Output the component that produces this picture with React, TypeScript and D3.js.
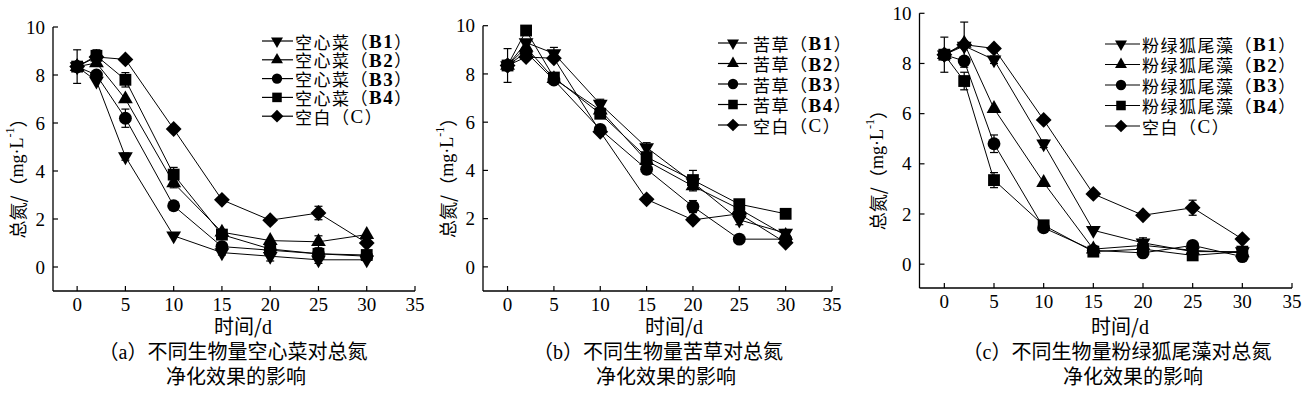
import React from "react";
import * as d3 from "d3";

// sampling days
const days = [0, 2, 5, 10, 15, 20, 25, 30];
const xTicks = [0, 5, 10, 15, 20, 25, 30, 35];
const yTicks = [0, 2, 4, 6, 8, 10];

// (a) 空心菜
const aB1 = [8.35, 7.75, 4.6, 1.3, 0.6, 0.45, 0.3, 0.3];
const aB2 = [8.35, 8.5, 7.0, 3.5, 1.45, 1.1, 1.05, 1.35];
const aB3 = [8.35, 8.0, 6.2, 2.55, 0.85, 0.7, 0.55, 0.45];
const aB4 = [8.35, 8.8, 7.8, 3.85, 1.35, 0.75, 0.55, 0.5];
const aC = [8.35, 8.75, 8.65, 5.75, 2.8, 1.95, 2.25, 1.0];
const aErrB1 = [0, 0, 0.15, 0, 0.1, 0.2, 0.15, 0];
const aErrB2 = [0, 0, 0, 0.2, 0, 0, 0.25, 0];
const aErrB3 = [0, 0, 0.38, 0, 0, 0, 0, 0];
const aErrB4 = [0.7, 0.25, 0.3, 0.3, 0, 0, 0, 0];
const aErrC = [0, 0.2, 0, 0, 0, 0, 0.28, 0];

// (b) 苦草
const bB1 = [8.35, 9.3, 8.85, 6.75, 4.95, 3.5, 1.95, 1.4];
const bB2 = [8.35, 9.1, 7.8, 6.5, 4.4, 3.35, 2.4, 1.3];
const bB3 = [8.35, 8.9, 7.75, 5.7, 4.05, 2.5, 1.15, 1.15];
const bB4 = [8.35, 9.8, 7.85, 6.35, 4.55, 3.6, 2.6, 2.2];
const bC = [8.35, 8.7, 8.65, 5.6, 2.8, 1.95, 2.2, 1.0];
const bErrB1 = [0, 0, 0.25, 0.2, 0.2, 0, 0.2, 0.15];
const bErrB2 = [0, 0, 0, 0, 0, 0.2, 0, 0];
const bErrB3 = [0, 0, 0, 0, 0.2, 0.25, 0, 0];
const bErrB4 = [0.7, 0, 0, 0, 0, 0.4, 0, 0];
const bErrC = [0, 0, 0, 0, 0, 0, 0, 0];

// (c) 粉绿狐尾藻
const cB1 = [8.35, 8.7, 8.15, 4.8, 1.35, 0.85, 0.5, 0.5];
const cB2 = [8.35, 8.8, 6.2, 3.25, 0.6, 0.75, 0.55, 0.45];
const cB3 = [8.35, 8.1, 4.8, 1.45, 0.55, 0.45, 0.75, 0.3];
const cB4 = [8.35, 7.3, 3.35, 1.55, 0.5, 0.6, 0.35, 0.5];
const cC = [8.35, 8.75, 8.6, 5.75, 2.8, 1.95, 2.25, 1.0];
const cErrB1 = [0, 0, 0.15, 0.15, 0, 0.2, 0, 0];
const cErrB2 = [0, 0, 0, 0, 0, 0, 0, 0];
const cErrB3 = [0, 0, 0.35, 0, 0, 0, 0, 0];
const cErrB4 = [0.7, 0.35, 0.3, 0, 0, 0, 0, 0];
const cErrC = [0, 0.9, 0, 0, 0, 0, 0.3, 0];

const markerKinds = ["down", "up", "circle", "square", "diamond"];
const codes = ["B1", "B2", "B3", "B4"];

const panels = [
  {
    plant: "空心菜", letter: "a",
    series: [aB1, aB2, aB3, aB4, aC], errs: [aErrB1, aErrB2, aErrB3, aErrB4, aErrC],
    xDom: [-2.5, 35], xRange: [53, 415], yDom: [-1, 10], yRange: [291, 27],
    leg: { x0: 262, x1: 293, mx: 277, tx: 295, y0: 41, dy: 18.8 },
    titleX: 17, xLabelX: 243, cap1X: 233, cap2X: 236,
  },
  {
    plant: "苦草", letter: "b",
    series: [bB1, bB2, bB3, bB4, bC], errs: [bErrB1, bErrB2, bErrB3, bErrB4, bErrC],
    xDom: [-2.65, 35], xRange: [483, 832], yDom: [-1, 10], yRange: [291, 25.7],
    leg: { x0: 718, x1: 747, mx: 733, tx: 753, y0: 43, dy: 20.5 },
    titleX: 447, xLabelX: 674, cap1X: 658, cap2X: 666,
  },
  {
    plant: "粉绿狐尾藻", letter: "c",
    series: [cB1, cB2, cB3, cB4, cC], errs: [cErrB1, cErrB2, cErrB3, cErrB4, cErrC],
    xDom: [-2.5, 35], xRange: [919.5, 1292], yDom: [-0.95, 10], yRange: [288, 13.3],
    leg: { x0: 1105, x1: 1140, mx: 1121, tx: 1142, y0: 44, dy: 20.5 },
    titleX: 877, xLabelX: 1120, cap1X: 1117, cap2X: 1133,
  },
];

const serif = "'Liberation Serif','Noto Sans CJK SC',serif";
const cjk = "'Noto Sans CJK SC','Liberation Serif',sans-serif";

function markerPath(kind: string, scale: number) {
  if (kind === "circle") return { d: d3.symbol().type(d3.symbolCircle).size(130 * scale)()!, rot: 0 };
  if (kind === "square") return { d: d3.symbol().type(d3.symbolSquare).size(140 * scale)()!, rot: 0 };
  if (kind === "diamond") return { d: d3.symbol().type(d3.symbolSquare).size(125 * scale)()!, rot: 45 };
  if (kind === "up") return { d: d3.symbol().type(d3.symbolTriangle).size(95 * scale)()!, rot: 0 };
  return { d: d3.symbol().type(d3.symbolTriangle).size(95 * scale)()!, rot: 180 };
}

function Marker({ kind, x, y, scale = 1 }: { kind: string; x: number; y: number; scale?: number }) {
  const m = markerPath(kind, scale);
  return <path d={m.d} transform={`translate(${x},${y}) rotate(${m.rot})`} fill="#000" />;
}

function Panel({ p }: { p: any }) {
  const x = d3.scaleLinear().domain(p.xDom).range(p.xRange);
  const y = d3.scaleLinear().domain(p.yDom).range(p.yRange);
  const line = d3.line<number>().x((_, i) => x(days[i])).y((v) => y(v));
  const [xl, xr] = p.xRange;
  const [yb, yt] = p.yRange;
  const labels = [...codes.map((c) => ({ name: p.plant, code: c })), { name: "空白", code: "C" }];
  const midY = (yb + yt) / 2 + 15;

  return (
    <g>
      {/* axes */}
      <line x1={xl} x2={xl} y1={yt} y2={yb} stroke="#000" strokeWidth={1.3} />
      <line x1={xl} x2={xr} y1={yb} y2={yb} stroke="#000" strokeWidth={1.3} />
      {yTicks.map((t) => (
        <g key={"y" + t}>
          <line x1={xl} x2={xl + 5} y1={y(t)} y2={y(t)} stroke="#000" strokeWidth={1.2} />
          <text x={xl - 8} y={y(t)} dy="0.35em" textAnchor="end" fontFamily={serif} fontSize={19}>{t}</text>
        </g>
      ))}
      {xTicks.map((t) => (
        <g key={"x" + t}>
          <line x1={x(t)} x2={x(t)} y1={yb} y2={yb - 5} stroke="#000" strokeWidth={1.2} />
          <text x={x(t)} y={yb + 20} textAnchor="middle" fontFamily={serif} fontSize={19}>{t}</text>
        </g>
      ))}

      {/* y title */}
      <text transform={`translate(${p.titleX},${midY}) rotate(-90)`} textAnchor="middle" dominantBaseline="central"
        fontFamily={cjk} fontSize={18}>
        总氮/（<tspan fontFamily={serif}>mg·L</tspan><tspan fontFamily={serif} fontSize={12} dy={-7}>-1</tspan><tspan dy={7}>）</tspan>
      </text>

      {/* series */}
      {p.series.map((s: number[], si: number) => (
        <g key={"s" + si}>
          <path d={line(s)!} fill="none" stroke="#000" strokeWidth={1} />
          {s.map((v, i) => {
            const e = p.errs[si][i];
            if (!e) return null;
            const cx = x(days[i]);
            return (
              <g key={"e" + i} stroke="#000" strokeWidth={1.2}>
                <line x1={cx} x2={cx} y1={y(v - e)} y2={y(v + e)} />
                <line x1={cx - 4} x2={cx + 4} y1={y(v - e)} y2={y(v - e)} />
                <line x1={cx - 4} x2={cx + 4} y1={y(v + e)} y2={y(v + e)} />
              </g>
            );
          })}
          {s.map((v, i) => (
            <Marker key={"m" + i} kind={markerKinds[si]} x={x(days[i])} y={y(v)} />
          ))}
        </g>
      ))}

      {/* legend */}
      {labels.map((l, i) => {
        const ly = p.leg.y0 + i * p.leg.dy;
        return (
          <g key={"l" + i}>
            <line x1={p.leg.x0} x2={p.leg.x1} y1={ly} y2={ly} stroke="#000" strokeWidth={1.2} />
            <Marker kind={markerKinds[i]} x={p.leg.mx} y={ly} scale={0.65} />
            <text x={p.leg.tx} y={ly} dominantBaseline="central" fontFamily={cjk} fontSize={17} letterSpacing={1.5}>
              {l.name}（<tspan fontFamily={serif} fontSize={19} fontWeight={l.code === "C" ? "normal" : "bold"}>{l.code}</tspan>）
            </text>
          </g>
        );
      })}

      {/* x title and caption */}
      <text x={p.xLabelX} y={334} textAnchor="middle" fontFamily={cjk} fontSize={20}>
        时间/<tspan fontFamily={serif}>d</tspan>
      </text>
      <text x={p.cap1X} y={359} textAnchor="middle" fontFamily={cjk} fontSize={20}>
        （<tspan fontFamily={serif}>{p.letter}</tspan>）不同生物量{p.plant}对总氮
      </text>
      <text x={p.cap2X} y={384} textAnchor="middle" fontFamily={cjk} fontSize={20}>净化效果的影响</text>
    </g>
  );
}

export default function App() {
  return (
    <svg width={1310} height={393} style={{ position: "absolute", left: 0, top: 0, background: "#fff" }}>
      <rect width={1310} height={393} fill="#fff" />
      {panels.map((p) => (
        <Panel key={p.letter} p={p} />
      ))}
    </svg>
  );
}
